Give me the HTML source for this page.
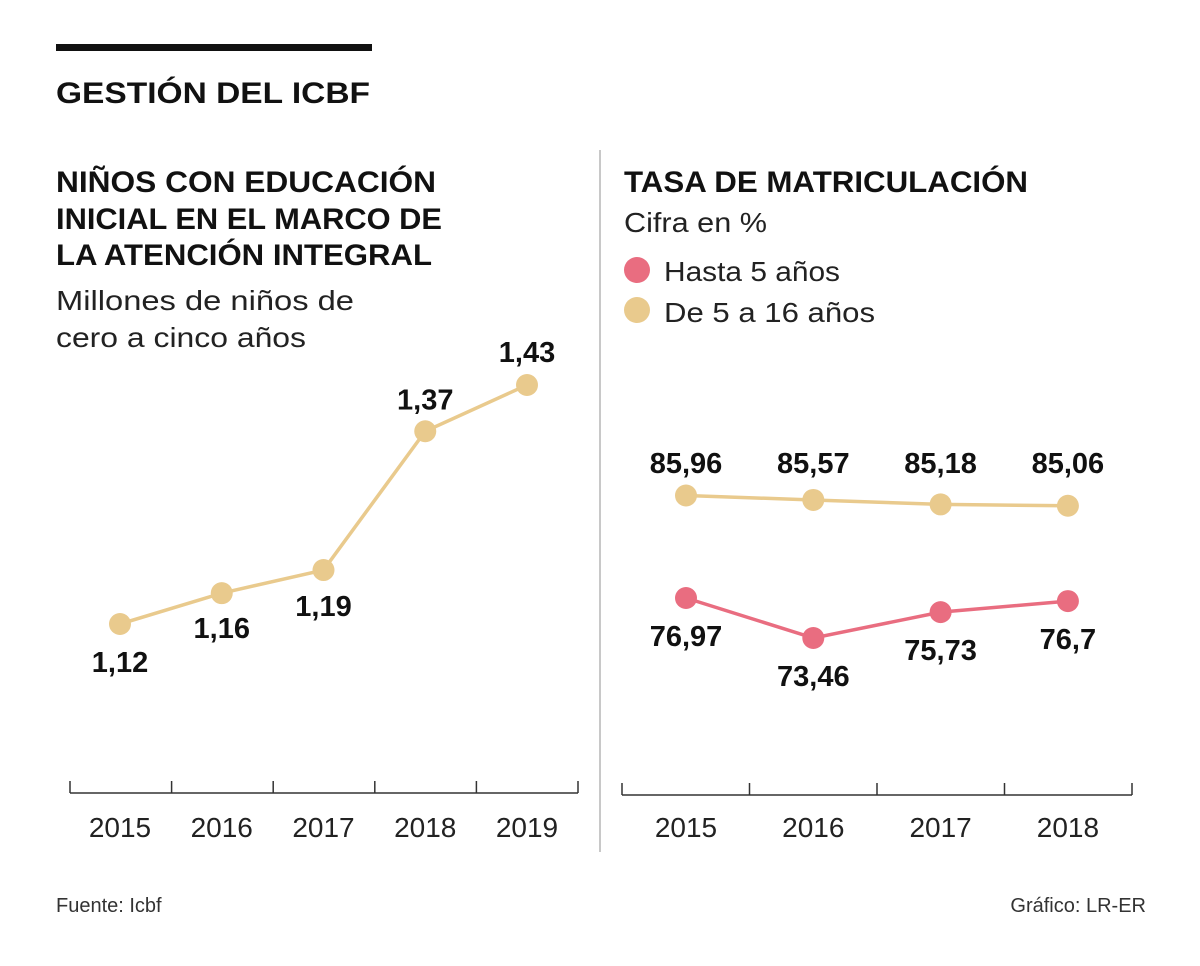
<!DOCTYPE html>
<html><head><meta charset="utf-8"><style>
html,body{margin:0;padding:0;background:#fff;}
svg{display:block;font-family:"Liberation Sans",sans-serif;}
</style></head><body>
<svg id="c" width="1200" height="966" viewBox="0 0 1200 966">
<rect x="56" y="44" width="316" height="7" fill="#111"/>
<text x="56" y="103" font-size="30" font-weight="bold" textLength="314" lengthAdjust="spacingAndGlyphs" fill="#111">GESTIÓN DEL ICBF</text>
<g font-size="30" font-weight="bold" fill="#111">
<text x="56" y="192" textLength="380" lengthAdjust="spacingAndGlyphs">NIÑOS CON EDUCACIÓN</text>
<text x="56" y="229" textLength="386" lengthAdjust="spacingAndGlyphs">INICIAL EN EL MARCO DE</text>
<text x="56" y="265" textLength="376" lengthAdjust="spacingAndGlyphs">LA ATENCIÓN INTEGRAL</text>
</g>
<g font-size="28" fill="#222">
<text x="56" y="310" textLength="298" lengthAdjust="spacingAndGlyphs">Millones de niños de</text>
<text x="56" y="347" textLength="250" lengthAdjust="spacingAndGlyphs">cero a cinco años</text>
</g>
<line x1="600" y1="150" x2="600" y2="852" stroke="#c8c8c8" stroke-width="2"/>
<text x="624" y="192" font-size="30" font-weight="bold" fill="#111" textLength="404" lengthAdjust="spacingAndGlyphs">TASA DE MATRICULACIÓN</text>
<text x="624" y="232" font-size="28" fill="#222" textLength="143" lengthAdjust="spacingAndGlyphs">Cifra en %</text>
<g>
<circle cx="637" cy="270" r="13" fill="#e96d80"/>
<text x="664" y="281" font-size="28" fill="#222" textLength="176" lengthAdjust="spacingAndGlyphs">Hasta 5 años</text>
<circle cx="637" cy="310" r="13" fill="#e9ca8d"/>
<text x="664" y="322" font-size="28" fill="#222" textLength="211" lengthAdjust="spacingAndGlyphs">De 5 a 16 años</text>
</g>
<text x="56" y="912" font-size="20" fill="#333">Fuente: Icbf</text>
<text x="1146" y="912" font-size="20" fill="#333" text-anchor="end">Gráfico: LR-ER</text>
<g id="left"></g><g id="right"></g>
</svg>
<script>
const leftYears=["2015","2016","2017","2018","2019"];
const leftValues=[1.12,1.16,1.19,1.37,1.43];
const leftLabels=["1,12","1,16","1,19","1,37","1,43"];
const rightYears=["2015","2016","2017","2018"];
const youngValues=[76.97,73.46,75.73,76.7];
const youngLabels=["76,97","73,46","75,73","76,7"];
const olderValues=[85.96,85.57,85.18,85.06];
const olderLabels=["85,96","85,57","85,18","85,06"];
const NS="http://www.w3.org/2000/svg";
function mk(p,t,a){const e=document.createElementNS(NS,t);for(const k in a)e.setAttribute(k,a[k]);p.appendChild(e);return e;}
const Y="#e9ca8d",P="#e96d80";
// left
const L=document.getElementById('left');
const lx=i=>120+i*101.75, ly=v=>624-(v-1.12)*771;
const ax=mk(L,'line',{x1:70,y1:793,x2:578,y2:793,stroke:'#333','stroke-width':1.5});


for(let i=0;i<=leftYears.length;i++){const t=mk(L,'line',{x1:70+i*101.6,y1:781,x2:70+i*101.6,y2:793,stroke:'#333','stroke-width':1.5});

}
leftYears.forEach((y,i)=>{const t=mk(L,'text',{x:lx(i),y:837,'font-size':28,'text-anchor':'middle',fill:'#222'});t.textContent=y;

});
const lp=mk(L,'polyline',{points:leftValues.map((v,i)=>lx(i)+','+ly(v)).join(' '),fill:'none',stroke:Y,'stroke-width':3.5});


const loff=[48,45,46,-22,-23];
leftValues.forEach((v,i)=>{const c=mk(L,'circle',{cx:lx(i),cy:ly(v),r:11,fill:Y});


const t=mk(L,'text',{x:lx(i),y:ly(v)+loff[i],'font-size':29,'font-weight':'bold','text-anchor':'middle',fill:'#111'});t.textContent=leftLabels[i];

});
// right
const R=document.getElementById('right');
const rx=i=>686+i*127.3, ry=v=>598-(v-76.97)*11.4;
const ax2=mk(R,'line',{x1:622,y1:795,x2:1132,y2:795,stroke:'#333','stroke-width':1.5});


for(let i=0;i<=rightYears.length;i++){const t=mk(R,'line',{x1:622+i*127.5,y1:783,x2:622+i*127.5,y2:795,stroke:'#333','stroke-width':1.5});

}
rightYears.forEach((y,i)=>{const t=mk(R,'text',{x:rx(i),y:837,'font-size':28,'text-anchor':'middle',fill:'#222'});t.textContent=y;

});
[[olderValues,olderLabels,Y,-22,'older'],[youngValues,youngLabels,P,48,'young']].forEach(([vals,labs,col,off,nm])=>{
const pl=mk(R,'polyline',{points:vals.map((v,i)=>rx(i)+','+ry(v)).join(' '),fill:'none',stroke:col,'stroke-width':3.5});


vals.forEach((v,i)=>{const c=mk(R,'circle',{cx:rx(i),cy:ry(v),r:11,fill:col});


const yy=nm==='older'?473:ry(v)+off;
const t=mk(R,'text',{x:rx(i),y:yy,'font-size':29,'font-weight':'bold','text-anchor':'middle',fill:'#111'});t.textContent=labs[i];

});
});
</script>
</body></html>
